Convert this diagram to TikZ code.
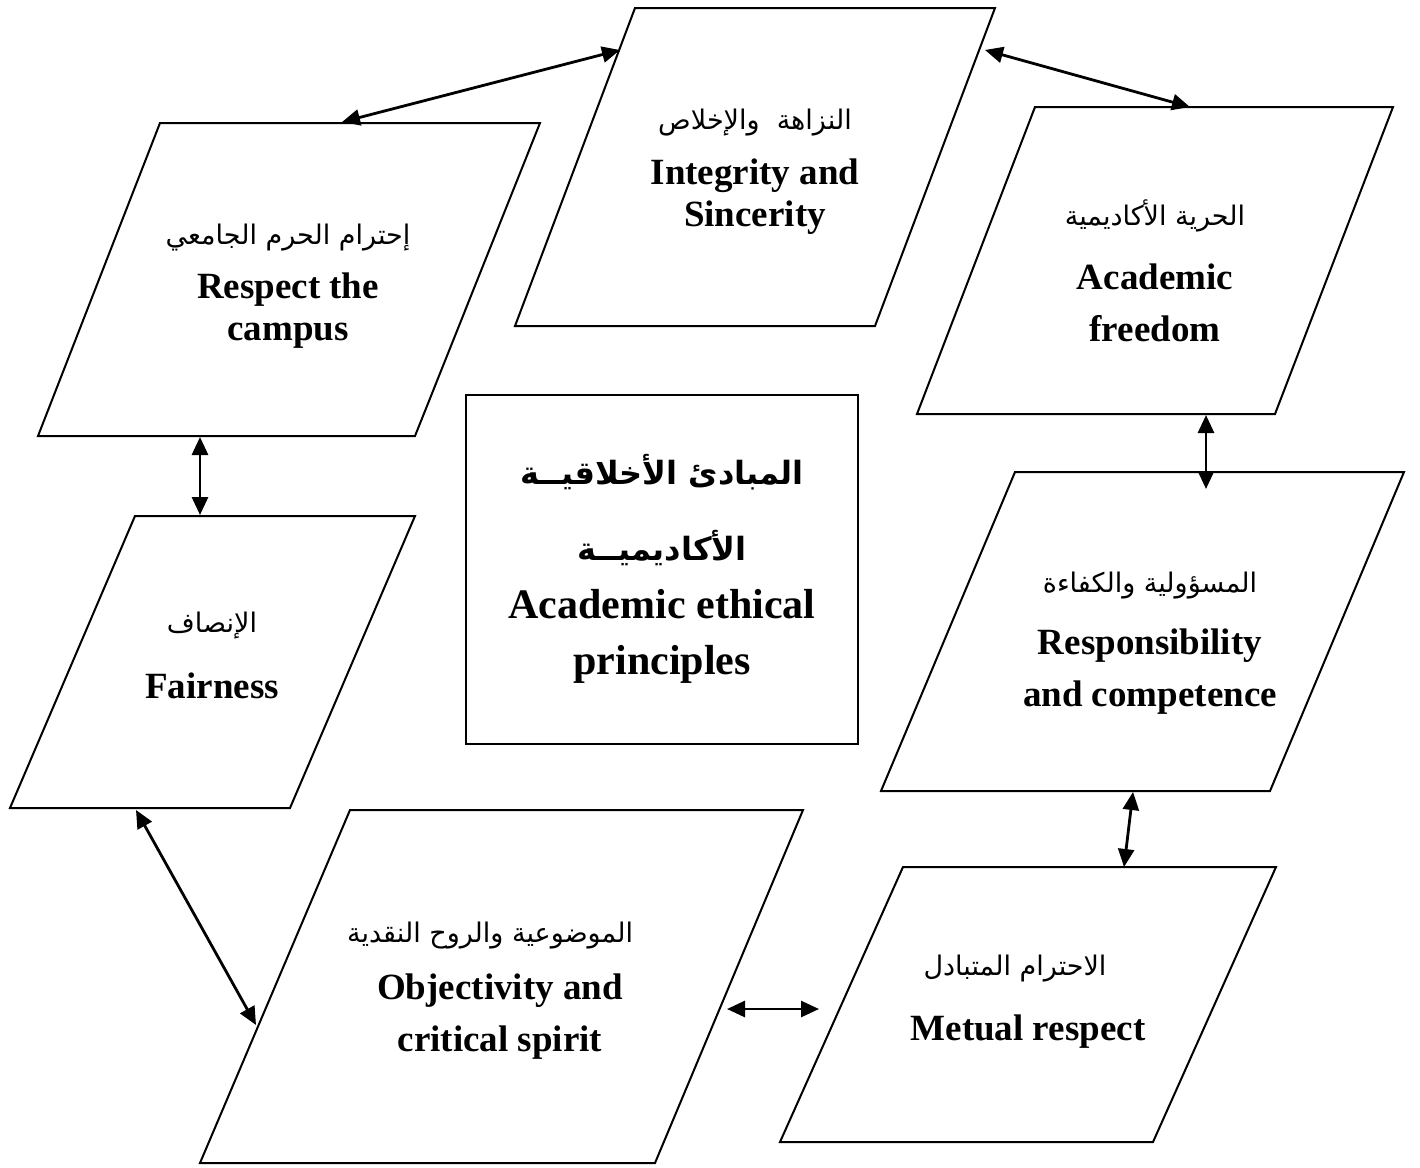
\documentclass[tikz,border=0pt]{standalone}
\usepackage{fontspec}
\setmainfont{Liberation Serif}
\newfontfamily\arabicfont[Script=Arabic]{DejaVu Sans}
\TeXXeTstate=1
\usetikzlibrary{arrows.meta}
\begin{document}
\begin{tikzpicture}[x=0.5pt,y=-0.5pt,
 box/.style={draw=black,line width=1pt},
 conn/.style={line width=1.4pt,{Triangle[length=9pt,width=8pt]}-{Triangle[length=9pt,width=8pt]}},
 en/.style={font=\fontsize{18.5}{22}\selectfont\bfseries,align=center,inner sep=0pt},
 enbig/.style={font=\fontsize{21}{25}\selectfont\bfseries,align=center,inner sep=0pt},
 ar/.style={font=\arabicfont\fontsize{13.5}{16}\selectfont,inner sep=0pt},
 arbig/.style={font=\arabicfont\fontsize{16}{20}\selectfont\bfseries,inner sep=0pt}]
\useasboundingbox (0,0) rectangle (1420,1168);
\fill[white] (0,0) rectangle (1420,1168);

% shapes
\draw[box] (160,123) -- (540,123) -- (415,436) -- (38,436) -- cycle;
\draw[box] (635,8) -- (995,8) -- (875,326) -- (515,326) -- cycle;
\draw[box] (1035,107) -- (1393,107) -- (1275,414) -- (917,414) -- cycle;
\draw[box] (466,395) rectangle (858,744);
\draw[box] (135,516) -- (415,516) -- (290,808) -- (10,808) -- cycle;
\draw[box] (1015,472) -- (1404,472) -- (1270,791) -- (881,791) -- cycle;
\draw[box] (350,810) -- (803,810) -- (655,1163) -- (200,1163) -- cycle;
\draw[box] (903,867) -- (1276,867) -- (1153,1142) -- (780,1142) -- cycle;

% texts
\node[ar] (respAr) at (288,238) {\beginR إحترام الحرم الجامعي\endR};
\node[en] (resp) at (288,311) {Respect the\\[-1pt]campus};

\node[ar] (intAr) at (755,123) {\beginR النزاهة\ \ والإخلاص\endR};
\node[en] (int) at (755,197) {Integrity and\\[-1pt]Sincerity};

\node[ar] (acaAr) at (1155,216) {\beginR الحرية الأكاديمية\endR};
\node[en] (aca) at (1155,303) {Academic\\[4pt]freedom};

\node[arbig] (cenAr1) at (662,472) {\beginR المبادئ الأخلاقيــة\endR};
\node[arbig] (cenAr2) at (662,548) {\beginR الأكاديميــة\endR};
\node[enbig] (cen) at (662,636) {Academic ethical\\[3pt]principles};

\node[ar] (fairAr) at (212,626) {\beginR الإنصاف\endR};
\node[en] (fair) at (212,686) {Fairness};

\node[ar] (respoAr) at (1150,586) {\beginR المسؤولية والكفاءة\endR};
\node[en] (respo) at (1150,672) {Responsibility\\[4pt]and competence};

\node[ar] (objAr) at (490,936) {\beginR الموضوعية والروح النقدية\endR};
\node[en] (obj) at (500,1017) {Objectivity and\\[4pt]critical spirit};

\node[ar] (metAr) at (1015,969) {\beginR الاحترام المتبادل\endR};
\node[en] (met) at (1028,1032) {Metual respect};

% connector endpoints
\coordinate (a1s) at (342,122); \coordinate (a1e) at (620,50);
\coordinate (a2s) at (985,50);  \coordinate (a2e) at (1190,107);
\coordinate (a3s) at (200,437); \coordinate (a3e) at (200,515);
\coordinate (a4s) at (1206,415); \coordinate (a4e) at (1206,489);
\coordinate (a5s) at (1133,792); \coordinate (a5e) at (1124,867);
\coordinate (a6s) at (136,810); \coordinate (a6e) at (256,1025);
\coordinate (a7s) at (727,1009); \coordinate (a7e) at (819,1009);

\draw[conn] (a1s) -- (a1e);
\draw[conn] (a2s) -- (a2e);
\draw[conn] (a3s) -- (a3e);
\draw[conn] (a4s) -- (a4e);
\draw[conn] (a5s) -- (a5e);
\draw[conn] (a6s) -- (a6e);
\draw[conn] (a7s) -- (a7e);
\end{tikzpicture}
\end{document}
